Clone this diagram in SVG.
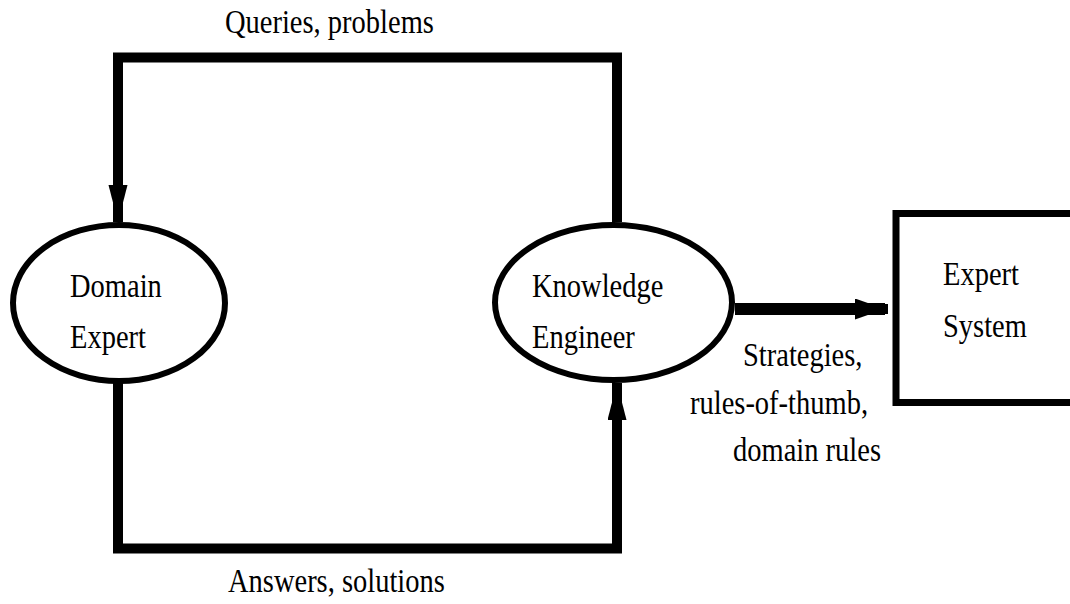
<svg xmlns="http://www.w3.org/2000/svg" width="1070" height="604" viewBox="0 0 1070 604">
<style>
  .lbl { font-family: "Liberation Serif", "Times New Roman", serif; font-size: 28.5px; fill: #000; }
  .node { fill: #fff; stroke: #000; stroke-width: 6; }
  .box { fill: #fff; stroke: #000; stroke-width: 7; }
  .conn { fill: none; stroke: #000; stroke-width: 10; stroke-linejoin: miter; stroke-linecap: butt; }
  .thick { fill: none; stroke: #000; stroke-width: 12; }
</style>
<defs>
  <marker id="arrV" markerUnits="userSpaceOnUse" markerWidth="40" markerHeight="20" refX="37" refY="9.5" orient="auto" viewBox="0 0 40 20">
    <path d="M0,0 L37,9.5 L0,19 Z" fill="#000"/>
  </marker>
  <marker id="arrH" markerUnits="userSpaceOnUse" markerWidth="34" markerHeight="24" refX="30" refY="10.5" orient="auto" viewBox="0 0 34 24">
    <path d="M0,0 L30,10.5 L0,21 Z" fill="#000"/>
  </marker>
</defs>
<rect width="1070" height="604" fill="#fff"/>
<g id="connectors">
  <path class="conn" d="M617,222 V57.5 H118 V222" marker-end="url(#arrV)"/>
  <path class="conn" d="M118,383 V548.5 H617 V383" marker-end="url(#arrV)"/>
  <path class="thick" d="M735,309 H885" marker-end="url(#arrH)"/>
  <path d="M884,304 H888 V314 H884 Z" fill="#000"/>
</g>
<g id="domain-expert">
  <ellipse class="node" cx="119" cy="303" rx="106" ry="78"/>
  <text class="lbl" transform="translate(70,297) scale(1,1.15)">Domain</text>
  <text class="lbl" transform="translate(70,348) scale(1,1.15)">Expert</text>
</g>
<g id="knowledge-engineer">
  <ellipse class="node" cx="613.5" cy="302.5" rx="118.5" ry="77.5"/>
  <text class="lbl" transform="translate(532,297) scale(1,1.15)">Knowledge</text>
  <text class="lbl" transform="translate(532,348) scale(1,1.15)">Engineer</text>
</g>
<g id="expert-system">
  <rect class="box" x="896" y="213.5" width="200" height="189"/>
  <text class="lbl" transform="translate(943,285) scale(1,1.15)">Expert</text>
  <text class="lbl" transform="translate(943,337) scale(1,1.15)">System</text>
</g>
<g id="labels">
  <text class="lbl" transform="translate(225,33) scale(1,1.15)">Queries, problems</text>
  <text class="lbl" transform="translate(228,592) scale(1,1.15)">Answers, solutions</text>
  <text class="lbl" transform="translate(743,366) scale(1,1.15)">Strategies,</text>
  <text class="lbl" transform="translate(690,414) scale(1,1.15)">rules-of-thumb,</text>
  <text class="lbl" transform="translate(733,461) scale(1,1.15)">domain rules</text>
</g>
</svg>
